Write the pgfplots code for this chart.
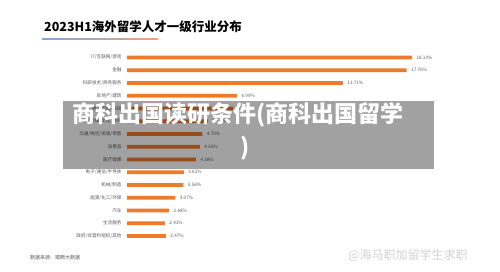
\documentclass[border=0pt]{standalone}
\usepackage{pgfplots}
\pgfplotsset{compat=1.18}
\usepackage{pgfplotstable}
\usepackage{fontspec}
\setmainfont{Noto Sans CJK SC}
\definecolor{barorange}{HTML}{EE7A2C}
\definecolor{lbl}{HTML}{5A5A5A}
\definecolor{lineblue}{HTML}{7DA6E2}
\definecolor{lineorange}{HTML}{F4A27A}

\pgfplotstableread{
idx val name
0 18.10 IT/互联网/游戏
1 17.76 金融
2 13.71 科研技术/商务服务
3 6.99 房地产/建筑
4 6.73 教育培训/科研
5 5.13 广告/传媒/文化/体育
6 4.79 交通/物流/贸易/零售
7 4.63 消费品
8 4.38 医疗健康
9 3.61 电子/通信/半导体
10 3.58 机械/制造
11 3.07 能源/化工/环保
12 2.68 汽车
13 2.41 生活服务
14 2.47 政府/非营利组织/其他
}\datatable

\begin{document}
\begin{tikzpicture}
\useasboundingbox (0pt,0pt) rectangle (500pt,272pt);
\fill[white] (0pt,0pt) rectangle (500pt,272pt);
\node[anchor=west,inner sep=0,font=\fontsize{12.5}{14}\selectfont\bfseries] at (44pt,245pt) {2023H1海外留学人才一级行业分布};
\shade[left color=lineblue, right color=lineorange] (42pt,232.2pt) rectangle (158pt,233.4pt);
\begin{axis}[
  at={(127pt,220.9pt)}, anchor=north west,
  scale only axis, width=315pt, height=191.25pt,
  xmin=0, xmax=20, ymin=-0.5, ymax=14.5, y dir=reverse,
  xbar, bar width=3.8pt,
  axis line style={draw=none},
  xtick=\empty,
  ytick={0,...,14},
  yticklabels from table={\datatable}{name},
  major tick length=0pt,
  yticklabel style={font=\fontsize{4.6}{5}\selectfont, text=lbl, xshift=-2pt},
  /pgf/number format/assume math mode=true,
  nodes near coords={\pgfmathprintnumber[fixed,fixed zerofill,precision=2,assume math mode=true]{\pgfplotspointmeta}\%},
  nodes near coords style={font=\fontsize{4.6}{5}\selectfont, text=lbl, anchor=west, xshift=1pt},
  point meta=x,
  clip=false,
]
\addplot[fill=barorange, draw=none] table[x=val,y=idx]{\datatable};
\end{axis}
\fill[black,opacity=0.37] (63pt,103pt) rectangle (434pt,171pt);
\node[text=white,inner sep=0,font=\fontsize{23}{23}\selectfont\bfseries] at (238pt,157pt) {商科出国读研条件(商科出国留学};
\node[text=white,inner sep=0,font=\fontsize{23}{23}\selectfont\bfseries] at (245pt,124pt) {)};
\node[anchor=west,inner sep=0,font=\fontsize{5}{6}\selectfont,text=lbl] at (30pt,14pt) {数据来源：猎聘大数据};
\node[anchor=west,inner sep=0,font=\fontsize{12}{12}\selectfont,text=gray!35] at (348pt,17pt) {@海马职加留学生求职};
\end{tikzpicture}
\end{document}
